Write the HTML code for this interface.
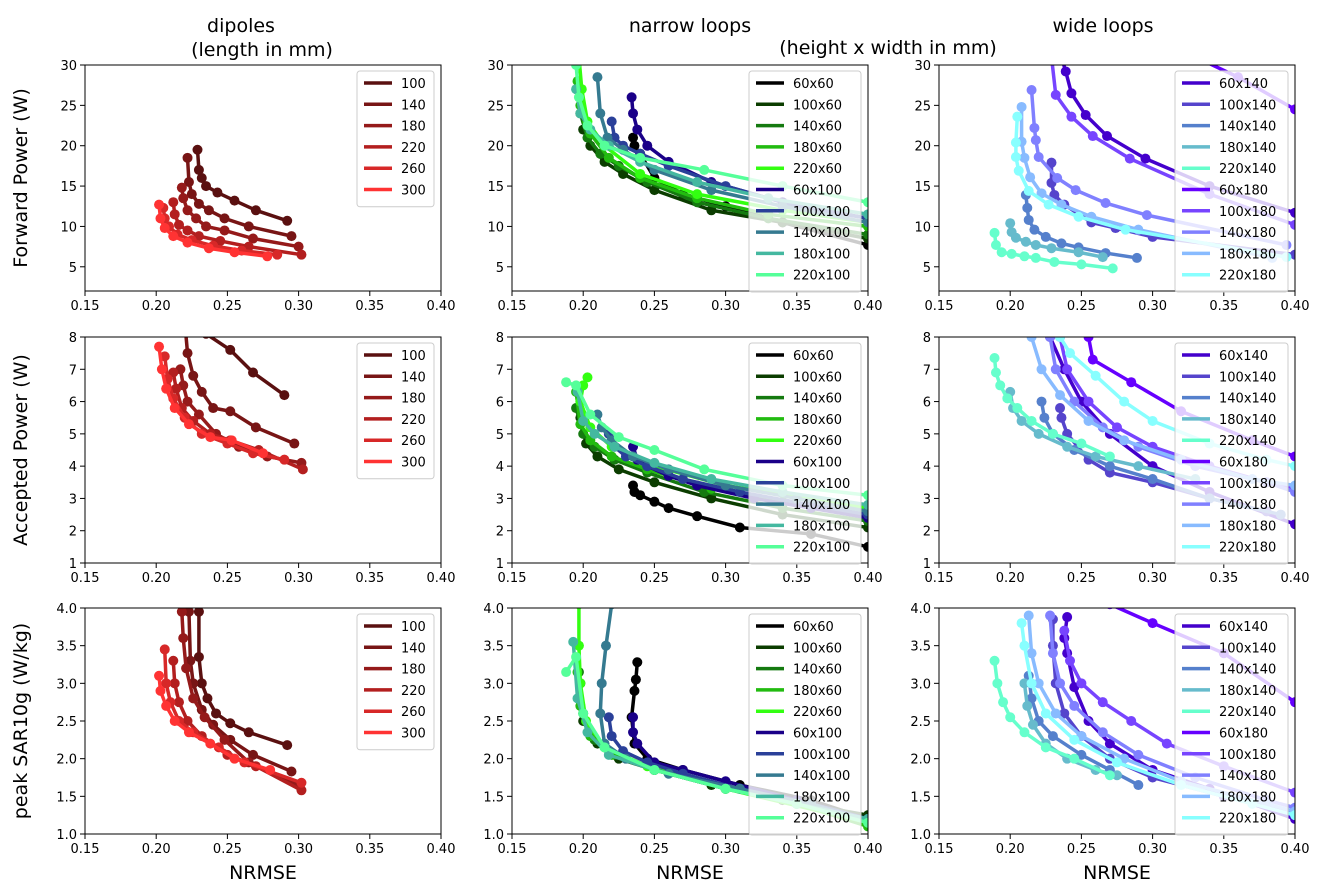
<!DOCTYPE html>
<html><head><meta charset="utf-8">
<style>
body{margin:0;background:#fff;}
svg{display:block;font-family:"DejaVu Sans","Liberation Sans",sans-serif;}
</style></head>
<body>
<svg id="fig" width="1318" height="888" viewBox="0 0 1318 888" xmlns="http://www.w3.org/2000/svg">
<text x="241" y="32" font-size="19" text-anchor="middle">dipoles</text>
<text x="262" y="56" font-size="19" text-anchor="middle">(length in mm)</text>
<text x="690" y="32" font-size="19" text-anchor="middle">narrow loops</text>
<text x="888" y="54" font-size="19" text-anchor="middle">(height x width in mm)</text>
<text x="1103" y="32" font-size="19" text-anchor="middle">wide loops</text>
<text transform="translate(27,178) rotate(-90)" font-size="19" text-anchor="middle">Forward Power (W)</text>
<text transform="translate(27,450) rotate(-90)" font-size="19" text-anchor="middle">Accepted Power (W)</text>
<text transform="translate(27,721) rotate(-90)" font-size="19" text-anchor="middle">peak SAR10g (W/kg)</text>
<text x="263" y="879" font-size="19" text-anchor="middle">NRMSE</text>
<text x="690" y="879" font-size="19" text-anchor="middle">NRMSE</text>
<text x="1117" y="879" font-size="19" text-anchor="middle">NRMSE</text>
</svg>
<script>
const xTicks=[0.15,0.20,0.25,0.30,0.35,0.40];
const xTickLabels=["0.15","0.20","0.25","0.30","0.35","0.40"];
const yTicksFwd=[5,10,15,20,25,30];
const yTicksAcc=[1,2,3,4,5,6,7,8];
const yTicksSar=[1.0,1.5,2.0,2.5,3.0,3.5,4.0];
const dipNames=["100","140","180","220","260","300"];
const dipColors=["#5a1010","#781515","#951a1a","#b31f1f","#d72828","#ff3333"];
const narNames=["60x60","100x60","140x60","180x60","220x60","60x100","100x100","140x100","180x100","220x100"];
const narColors=["#000000","#0b3d00","#157a10","#22bb10","#33ff11","#1a0088","#2a4099","#357a90","#44b8a0","#55ff99"];
const widNames=["60x140","100x140","140x140","180x140","220x140","60x180","100x180","140x180","180x180","220x180"];
const widColors=["#4400cc","#5544cc","#5580cc","#66bbcc","#66ffcc","#6600ff","#7744ff","#8080ff","#88bbff","#88ffff"];

const dipFwd=[
[[0.229,19.5],[0.230,17],[0.232,16],[0.235,15],[0.243,14.2],[0.255,13.2],[0.270,12],[0.292,10.7]],
[[0.222,18.5],[0.223,15.5],[0.225,14],[0.230,12.8],[0.237,12],[0.248,11],[0.265,10],[0.295,8.8]],
[[0.218,14.8],[0.219,13.5],[0.222,12],[0.228,11],[0.235,10],[0.248,9.5],[0.268,8.5],[0.300,7.5]],
[[0.212,13],[0.213,11.5],[0.216,10.2],[0.222,9.5],[0.230,8.8],[0.245,8.2],[0.265,7.5],[0.302,6.5]],
[[0.205,12.3],[0.206,11],[0.209,10],[0.215,9],[0.225,8.3],[0.240,7.6],[0.260,7],[0.285,6.5]],
[[0.202,12.7],[0.203,11],[0.206,9.8],[0.212,8.8],[0.222,8],[0.237,7.3],[0.255,6.8],[0.278,6.3]]];
const dipAcc=[
[[0.225,8.6],[0.228,8.3],[0.235,8.1],[0.252,7.6],[0.268,6.9],[0.290,6.2]],
[[0.220,8.5],[0.222,7.5],[0.226,6.8],[0.232,6.3],[0.240,5.8],[0.252,5.7],[0.270,5.2],[0.297,4.7]],
[[0.217,7],[0.219,6.5],[0.222,6],[0.230,5.6],[0.242,5.0],[0.258,4.6],[0.278,4.3],[0.302,4.1]],
[[0.212,6.9],[0.214,6.4],[0.218,5.8],[0.226,5.4],[0.238,5.0],[0.252,4.8],[0.272,4.5],[0.303,3.9]],
[[0.206,7.4],[0.208,6.7],[0.212,6.1],[0.220,5.5],[0.232,5.0],[0.250,4.7],[0.268,4.4],[0.290,4.2]],
[[0.202,7.7],[0.204,7.0],[0.207,6.4],[0.213,5.8],[0.223,5.3],[0.238,4.9],[0.253,4.8],[0.275,4.4]]];
const dipSar=[
[[0.230,3.95],[0.230,3.35],[0.232,3.0],[0.236,2.8],[0.242,2.6],[0.252,2.47],[0.265,2.35],[0.292,2.18]],
[[0.223,3.95],[0.224,3.3],[0.226,3.0],[0.232,2.65],[0.240,2.45],[0.252,2.25],[0.268,2.05],[0.295,1.83]],
[[0.218,3.95],[0.219,3.6],[0.221,3.2],[0.226,2.8],[0.234,2.55],[0.248,2.25],[0.265,1.95],[0.300,1.65]],
[[0.212,3.3],[0.213,3.0],[0.216,2.75],[0.222,2.5],[0.232,2.3],[0.250,2.05],[0.270,1.9],[0.302,1.58]],
[[0.206,3.45],[0.207,3.0],[0.210,2.75],[0.216,2.5],[0.226,2.35],[0.244,2.15],[0.262,1.95],[0.302,1.68]],
[[0.202,3.1],[0.203,2.9],[0.207,2.7],[0.213,2.5],[0.223,2.35],[0.238,2.2],[0.255,2.0],[0.280,1.85]]];

const narFwd=[
[[0.235,21],[0.236,20],[0.240,19],[0.250,16],[0.270,14],[0.300,12.5],[0.340,10.5],[0.400,7.7]],
[[0.200,22],[0.205,20],[0.215,18],[0.228,16.5],[0.250,14.5],[0.290,12],[0.340,10.5],[0.400,8.5]],
[[0.198,24],[0.203,21],[0.212,19],[0.225,17.5],[0.245,15.5],[0.280,13],[0.330,11],[0.400,9]],
[[0.196,28],[0.198,25],[0.205,21.5],[0.218,18.5],[0.240,16],[0.280,13.5],[0.330,11.5],[0.400,10]],
[[0.197,31],[0.199,27],[0.203,23],[0.215,20],[0.240,16.5],[0.280,14],[0.340,12],[0.400,10.5]],
[[0.234,26],[0.235,24],[0.238,22],[0.245,20],[0.260,18],[0.290,15.5],[0.340,13],[0.400,11]],
[[0.220,23],[0.222,21],[0.228,20],[0.240,19],[0.260,17.5],[0.300,15],[0.350,12.5],[0.400,11]],
[[0.210,28.5],[0.212,24],[0.217,21],[0.228,19.5],[0.250,17],[0.290,14.5],[0.340,12.5],[0.400,10.5]],
[[0.195,27],[0.198,24],[0.205,22],[0.218,20],[0.240,18],[0.280,15.5],[0.330,13.5],[0.400,11.5]],
[[0.195,30],[0.197,26],[0.203,22.5],[0.215,20],[0.240,18.5],[0.285,17],[0.340,15],[0.400,13]]];
const narAcc=[
[[0.235,3.4],[0.236,3.2],[0.240,3.1],[0.250,2.9],[0.260,2.7],[0.280,2.45],[0.310,2.1],[0.360,1.9],[0.400,1.5]],
[[0.198,5.5],[0.202,4.7],[0.210,4.3],[0.225,3.9],[0.250,3.5],[0.290,3.0],[0.340,2.5],[0.400,2.1]],
[[0.195,5.8],[0.200,5.0],[0.208,4.6],[0.222,4.2],[0.245,3.8],[0.285,3.2],[0.340,2.7],[0.400,2.3]],
[[0.195,6.3],[0.198,5.3],[0.205,4.8],[0.220,4.3],[0.245,3.9],[0.290,3.3],[0.340,2.9],[0.400,2.5]],
[[0.203,6.75],[0.200,6.5],[0.198,6.0],[0.205,5.2],[0.220,4.6],[0.250,4.0],[0.300,3.4],[0.400,2.7]],
[[0.235,4.6],[0.238,4.2],[0.245,4.0],[0.260,3.7],[0.280,3.4],[0.320,3.0],[0.360,2.7],[0.400,2.4]],
[[0.218,5.0],[0.222,4.6],[0.230,4.3],[0.245,4.0],[0.270,3.6],[0.310,3.2],[0.360,2.8],[0.400,2.5]],
[[0.210,5.6],[0.213,5.2],[0.220,4.8],[0.235,4.3],[0.260,3.9],[0.300,3.4],[0.350,3.0],[0.400,2.6]],
[[0.196,6.3],[0.200,5.4],[0.208,5.0],[0.222,4.6],[0.250,4.1],[0.290,3.6],[0.340,3.2],[0.400,2.8]],
[[0.188,6.6],[0.195,6.5],[0.205,5.6],[0.225,4.9],[0.250,4.5],[0.285,3.9],[0.340,3.4],[0.400,3.1]]];
const narSar=[
[[0.238,3.28],[0.237,3.05],[0.236,2.9],[0.234,2.55],[0.236,2.2],[0.245,2.0],[0.270,1.85],[0.310,1.65],[0.360,1.45],[0.400,1.2]],
[[0.198,3.0],[0.200,2.5],[0.210,2.2],[0.225,2.0],[0.250,1.85],[0.290,1.65],[0.340,1.45],[0.400,1.25]],
[[0.197,3.15],[0.200,2.6],[0.208,2.25],[0.222,2.05],[0.250,1.85],[0.300,1.6],[0.350,1.4],[0.400,1.15]],
[[0.196,3.15],[0.198,2.7],[0.205,2.3],[0.220,2.05],[0.250,1.85],[0.300,1.6],[0.350,1.4],[0.400,1.1]],
[[0.197,4.05],[0.197,3.5],[0.198,3.0],[0.202,2.5],[0.215,2.15],[0.245,1.9],[0.300,1.6],[0.400,1.15]],
[[0.235,2.55],[0.235,2.35],[0.238,2.2],[0.250,1.95],[0.270,1.85],[0.300,1.7],[0.350,1.45],[0.400,1.2]],
[[0.218,2.55],[0.220,2.3],[0.228,2.1],[0.245,1.95],[0.270,1.8],[0.310,1.6],[0.360,1.4],[0.400,1.2]],
[[0.220,4.05],[0.216,3.5],[0.213,3.0],[0.212,2.6],[0.215,2.2],[0.230,2.0],[0.260,1.8],[0.310,1.6],[0.360,1.4],[0.400,1.15]],
[[0.193,3.55],[0.196,2.8],[0.203,2.35],[0.218,2.05],[0.250,1.85],[0.300,1.6],[0.350,1.4],[0.400,1.2]],
[[0.188,3.15],[0.195,3.35],[0.200,2.6],[0.215,2.15],[0.250,1.85],[0.300,1.6],[0.350,1.4],[0.400,1.15]]];

const widFwd=[
[[0.236,31],[0.239,29.2],[0.243,26.5],[0.253,23.8],[0.268,21.2],[0.295,18.4],[0.340,15],[0.400,11.7]],
[[0.229,17.9],[0.229,15.4],[0.231,13.9],[0.238,12.7],[0.257,10.5],[0.274,9.8],[0.300,8.7],[0.400,6.5]],
[[0.211,13.9],[0.212,12.3],[0.213,10.8],[0.217,9.6],[0.225,8.7],[0.236,7.9],[0.248,7.4],[0.267,6.7],[0.289,6.1]],
[[0.200,10.4],[0.201,9.3],[0.204,8.6],[0.211,8.1],[0.218,7.7],[0.229,7.3],[0.248,6.8],[0.265,6.2]],
[[0.189,9.2],[0.190,7.7],[0.194,6.8],[0.201,6.6],[0.210,6.3],[0.218,6.1],[0.231,5.6],[0.250,5.3],[0.272,4.8]],
[[0.330,31],[0.360,28.5],[0.400,24.5]],
[[0.229,31],[0.232,26.3],[0.243,23.6],[0.258,21.2],[0.284,18.4],[0.340,14],[0.400,10.2]],
[[0.215,26.9],[0.217,22.2],[0.218,20.7],[0.220,18.6],[0.233,16.0],[0.246,14.5],[0.267,12.9],[0.296,11.4],[0.394,7.7]],
[[0.208,24.8],[0.208,20.5],[0.210,18.5],[0.214,16.1],[0.222,14.1],[0.236,12.7],[0.257,11.2],[0.290,9.6],[0.384,6.1]],
[[0.205,23.6],[0.204,20.4],[0.204,18.6],[0.206,16.9],[0.213,14.4],[0.227,12.7],[0.248,11.2],[0.281,9.6],[0.394,6.2]]];
const widAcc=[
[[0.228,8],[0.238,7],[0.250,6],[0.270,5],[0.300,4],[0.340,3.2],[0.400,2.2]],
[[0.235,5.8],[0.236,5.5],[0.240,5.0],[0.255,4.2],[0.270,3.8],[0.300,3.5],[0.340,3.0],[0.380,2.6]],
[[0.222,6],[0.224,5.5],[0.230,5.0],[0.245,4.5],[0.270,4.0],[0.300,3.6],[0.340,3.0],[0.390,2.5]],
[[0.200,6.3],[0.202,5.8],[0.208,5.4],[0.220,5.0],[0.240,4.6],[0.260,4.3],[0.290,4.0],[0.330,3.6]],
[[0.189,7.35],[0.190,6.9],[0.193,6.5],[0.198,6.1],[0.205,5.8],[0.215,5.4],[0.230,5.0],[0.250,4.7],[0.270,4.3]],
[[0.255,8],[0.258,7.3],[0.285,6.6],[0.320,5.7],[0.370,4.8],[0.400,4.3]],
[[0.235,8],[0.240,7],[0.255,6],[0.275,5.2],[0.300,4.6],[0.340,4.0],[0.380,3.5],[0.400,3.3]],
[[0.228,8],[0.232,7],[0.245,6],[0.265,5.2],[0.290,4.6],[0.330,4.0],[0.380,3.5],[0.400,3.2]],
[[0.215,8],[0.222,7],[0.235,6.2],[0.255,5.4],[0.280,4.8],[0.320,4.2],[0.370,3.6],[0.400,3.4]],
[[0.235,8],[0.242,7.5],[0.260,6.8],[0.280,6.0],[0.300,5.4],[0.340,4.7],[0.380,4.2],[0.400,4.0]]];
const widSar=[
[[0.240,3.88],[0.238,3.6],[0.240,3.4],[0.245,2.95],[0.255,2.5],[0.270,2.2],[0.300,1.85],[0.340,1.6],[0.400,1.2]],
[[0.230,3.85],[0.230,3.5],[0.232,3.0],[0.238,2.6],[0.250,2.3],[0.270,2.0],[0.300,1.75],[0.350,1.5],[0.400,1.3]],
[[0.213,3.1],[0.215,2.8],[0.220,2.5],[0.230,2.3],[0.250,2.05],[0.270,1.85],[0.290,1.65]],
[[0.210,3.0],[0.212,2.7],[0.216,2.45],[0.225,2.2],[0.240,2.0],[0.260,1.85],[0.275,1.78]],
[[0.189,3.3],[0.191,3.0],[0.195,2.75],[0.200,2.55],[0.210,2.35],[0.225,2.15],[0.245,2.0],[0.270,1.78]],
[[0.270,4.05],[0.300,3.8],[0.350,3.4],[0.400,2.75]],
[[0.238,3.7],[0.242,3.3],[0.250,3.0],[0.265,2.75],[0.285,2.5],[0.310,2.2],[0.350,1.9],[0.400,1.55]],
[[0.228,3.9],[0.230,3.4],[0.235,3.0],[0.245,2.7],[0.265,2.35],[0.290,2.05],[0.330,1.75],[0.380,1.45],[0.400,1.35]],
[[0.213,3.9],[0.215,3.4],[0.220,3.0],[0.232,2.6],[0.250,2.3],[0.280,2.0],[0.320,1.7],[0.380,1.4],[0.400,1.3]],
[[0.208,3.8],[0.210,3.5],[0.215,3.0],[0.225,2.6],[0.245,2.25],[0.275,1.95],[0.320,1.65],[0.370,1.4],[0.400,1.25]]];

const NS="http://www.w3.org/2000/svg";
const svg=document.getElementById('fig');
const colX=[85,512,939], rowY=[65,337,608], W=356, H=226;
const rowDefs=[{min:2,max:30,ticks:yTicksFwd,fmt:v=>String(v)},{min:1,max:8,ticks:yTicksAcc,fmt:v=>String(v)},{min:1,max:4,ticks:yTicksSar,fmt:v=>v.toFixed(1)}];
const cols=[{names:dipNames,colors:dipColors,data:[dipFwd,dipAcc,dipSar],lw:77},{names:narNames,colors:narColors,data:[narFwd,narAcc,narSar],lw:112},{names:widNames,colors:widColors,data:[widFwd,widAcc,widSar],lw:113}];
function mk(tag,attrs,parent){const e=document.createElementNS(NS,tag);for(const k in attrs)e.setAttribute(k,attrs[k]);(parent||svg).appendChild(e);return e;}
let cid=0;
for(let c=0;c<3;c++)for(let r=0;r<3;r++){
  const x0=colX[c],y0=rowY[r],rd=rowDefs[r],col=cols[c];
  const sx=v=>x0+(v-0.15)/0.25*W;
  const sy=v=>y0+H-(v-rd.min)/(rd.max-rd.min)*H;
  const g=mk('g',{});
  
  
  const clipId='cl'+(cid++);
  const cp=mk('clipPath',{id:clipId},g);mk('rect',{x:x0,y:y0,width:W,height:H},cp);
  const plot=mk('g',{'clip-path':'url(#'+clipId+')'},g);
  col.data[r].forEach((ser,i)=>{
    const sg=mk('g',{},plot);
    
    
    const pl=mk('polyline',{points:ser.map(p=>sx(p[0])+','+sy(p[1])).join(' '),fill:'none',stroke:col.colors[i],'stroke-width':3.5,'stroke-linejoin':'round','stroke-linecap':'square'},sg);
    
    
    ser.forEach(p=>{const m=mk('circle',{cx:sx(p[0]),cy:sy(p[1]),r:5,fill:col.colors[i]},sg);
      
      });
  });
  mk('rect',{x:x0,y:y0,width:W,height:H,fill:'none',stroke:'#000','stroke-width':1},g);
  xTicks.forEach((t,i)=>{const X=sx(t);mk('line',{x1:X,x2:X,y1:y0+H,y2:y0+H+5,stroke:'#000'},g);
    const tx=mk('text',{x:X,y:y0+H+19,'font-size':13,'text-anchor':'middle'},g);tx.textContent=xTickLabels[i];
    
    });
  rd.ticks.forEach(t=>{const Y=sy(t);mk('line',{x1:x0-5,x2:x0,y1:Y,y2:Y,stroke:'#000'},g);
    const tx=mk('text',{x:x0-8,y:Y+5,'font-size':13,'text-anchor':'end'},g);tx.textContent=rd.fmt(t);
    
    });
  // legend
  const n=col.names.length, lx=x0+W-7-col.lw, ly=y0+6;
  const lg=mk('g',{},g);
  
  
  mk('rect',{x:lx,y:ly,width:col.lw,height:n*21.3+8,rx:3,fill:'#fff','fill-opacity':0.8,stroke:'#ccc'},lg);
  col.names.forEach((nm,i)=>{const yy=ly+12+i*21.3;
    mk('line',{x1:lx+7,x2:lx+35,y1:yy,y2:yy,stroke:col.colors[i],'stroke-width':3.5},lg);
    const tx=mk('text',{x:lx+44,y:yy+5,'font-size':13},lg);tx.textContent=nm;
    
    });
}
</script>
</body></html>
